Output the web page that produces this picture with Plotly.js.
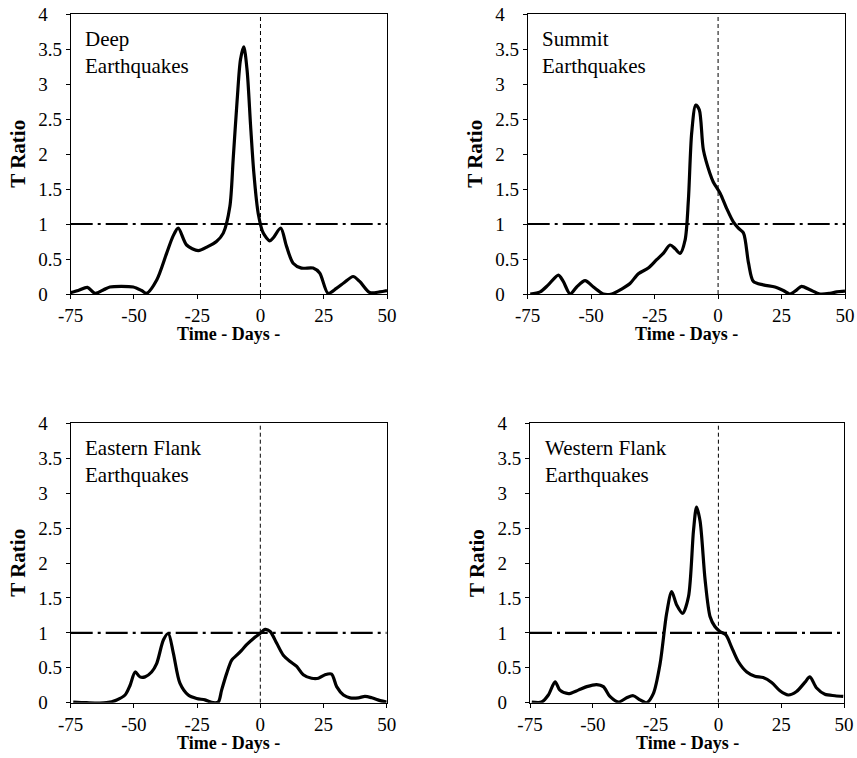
<!DOCTYPE html>
<html>
<head>
<meta charset="utf-8">
<script src="https://cdn.plot.ly/plotly-3.0.1.min.js"></script>
<style>html,body{margin:0;padding:0;background:#fff;}#chart{width:857px;height:758px;}</style>
</head>
<body>
<div id="chart"></div>
<script>
// ---- Data ----
const panelNames = ["Deep<br>Earthquakes", "Summit<br>Earthquakes", "Eastern Flank<br>Earthquakes", "Western Flank<br>Earthquakes"];

const deepDays  = [-75, -72, -68.4, -65.4, -62, -59.5, -55, -50.3, -47, -45, -41, -37.1, -34.5, -32.5, -29.2, -24.6, -20.7, -17.4, -14.7, -12.1, -10.8, -9.2, -7.9, -6.6, -5.3, -3.9, -2.6, -0.9, 1.1, 3.7, 5, 8, 10.3, 12.9, 16.2, 20.8, 23.4, 26.7, 30, 33, 36.6, 39.2, 43.2, 47.1, 50];
const deepRatio = [0.02, 0.05, 0.095, 0.01, 0.06, 0.1, 0.11, 0.1, 0.05, 0.01, 0.2, 0.58, 0.83, 0.94, 0.70, 0.62, 0.68, 0.75, 0.87, 1.25, 1.92, 2.78, 3.35, 3.53, 3.2, 2.4, 1.72, 1.15, 0.87, 0.76, 0.8, 0.94, 0.68, 0.44, 0.37, 0.37, 0.3, 0.01, 0.08, 0.16, 0.25, 0.18, 0.02, 0.03, 0.05];

const summitDays  = [-74, -70.1, -66.9, -62.9, -61, -58.3, -55.7, -52.4, -49.1, -45.2, -41.9, -38, -34.7, -31.4, -27.5, -24.2, -21.6, -18.9, -17, -15, -13, -11.7, -10.4, -8.8, -7.4, -5.8, -3.2, -1.9, 0.8, 3.4, 6, 8, 10, 12, 13.9, 17.8, 22.4, 25.7, 28.3, 31, 32.9, 36.2, 40.2, 44.1, 46.7, 50];
const summitRatio = [0, 0.03, 0.13, 0.27, 0.18, 0, 0.1, 0.19, 0.1, 0, 0, 0.07, 0.15, 0.29, 0.37, 0.49, 0.58, 0.70, 0.65, 0.58, 0.77, 1.34, 2.3, 2.7, 2.63, 2.06, 1.72, 1.6, 1.44, 1.22, 1.03, 0.94, 0.87, 0.44, 0.18, 0.13, 0.1, 0.05, 0, 0.06, 0.11, 0.06, 0, 0.01, 0.03, 0.04];

const easternDays  = [-74, -68.7, -60.8, -56.8, -53.5, -51.5, -49.5, -47.6, -45.6, -43, -41, -38.3, -36.4, -34.4, -31.8, -28.5, -25.2, -21.9, -18.6, -16.6, -15.3, -13.3, -11.3, -9.3, -7.4, -5.4, -2.7, -0.1, 1.9, 3.9, 6.5, 9.1, 11.8, 14.4, 17, 20.3, 23, 25.6, 28.2, 30.2, 32.9, 35.5, 38.8, 41.4, 44.1, 47.4, 50];
const easternRatio = [0.01, 0, 0, 0.04, 0.11, 0.25, 0.44, 0.37, 0.37, 0.44, 0.56, 0.9, 0.99, 0.71, 0.28, 0.11, 0.06, 0.04, 0, 0.01, 0.18, 0.42, 0.61, 0.68, 0.75, 0.83, 0.92, 0.99, 1.05, 1.02, 0.85, 0.68, 0.59, 0.52, 0.40, 0.35, 0.35, 0.40, 0.41, 0.23, 0.11, 0.07, 0.07, 0.09, 0.07, 0.03, 0.01];

const westernDays  = [-74.3, -70.4, -67.7, -65, -63.1, -59.7, -55.8, -52.4, -48.5, -45.8, -43.2, -39.8, -36.5, -33.9, -31.2, -28.6, -25.9, -23.2, -20.6, -18.6, -16.6, -14.2, -11.9, -9.9, -8.7, -7.3, -5.3, -3.3, -1.4, 0.6, 3, 5.2, 7.9, 11.3, 14.5, 17.8, 21.2, 24.5, 27.8, 31.1, 34.4, 36.4, 39.1, 42.4, 46.4, 49.7];
const westernRatio = [0.01, 0.01, 0.11, 0.3, 0.18, 0.13, 0.18, 0.23, 0.26, 0.23, 0.09, 0.01, 0.07, 0.1, 0.04, 0, 0.13, 0.56, 1.28, 1.59, 1.4, 1.28, 1.52, 2.47, 2.8, 2.6, 1.76, 1.23, 1.09, 1.02, 0.97, 0.8, 0.59, 0.44, 0.38, 0.36, 0.29, 0.17, 0.11, 0.16, 0.29, 0.37, 0.21, 0.12, 0.1, 0.09];

const yTickVals = [0, 0.5, 1, 1.5, 2, 2.5, 3, 3.5, 4];
// figure space + punctuation space pad whole numbers so labels line up on the left
const yTickText = ["0\u2007\u2008", "0.5", "1\u2007\u2008", "1.5", "2\u2007\u2008", "2.5", "3\u2007\u2008", "3.5", "4\u2007\u2008"];
const xTickVals = [-75, -50, -25, 0, 25, 50];
const xTickText = ["-75", "-50", "-25", "0", "25", "50"];
const xRange = [-75, 50];
const yRange = [0, 4];
const thresholdRatio = 1;
const eventDay = 0;
const xTitle = "Time - Days -";
const yTitle = "T Ratio";

// ---- Layout ----
const W = 857, H = 758;
const SERIF = "'Liberation Serif', 'Times New Roman', Times, serif";
const panels = [
  {days: deepDays,    ratio: deepRatio,    xd: [70.7, 387.0], yd: [14, 294]},
  {days: summitDays,  ratio: summitRatio,  xd: [527.7, 845.0], yd: [14, 294]},
  {days: easternDays, ratio: easternRatio, xd: [70.7, 386.7], yd: [423.3, 702.7]},
  {days: westernDays, ratio: westernRatio, xd: [530.0, 844.0], yd: [423.3, 702.7]}
];

const data = [];
const layout = {
  width: W, height: H,
  margin: {l: 0, r: 0, t: 0, b: 0},
  paper_bgcolor: "#fff", plot_bgcolor: "#fff",
  showlegend: false,
  font: {family: SERIF, color: "#000", size: 18},
  shapes: [], annotations: []
};

panels.forEach((p, i) => {
  const n = i === 0 ? "" : String(i + 1);
  const xa = "x" + n, ya = "y" + n;
  data.push({
    x: p.days, y: p.ratio, xaxis: xa, yaxis: ya,
    type: "scatter", mode: "lines",
    line: {color: "#000", width: 3.2, shape: "spline", smoothing: 0.8},
    hoverinfo: "skip"
  });
  const xdom = [p.xd[0] / W, p.xd[1] / W];
  const ydom = [1 - p.yd[1] / H, 1 - p.yd[0] / H];
  layout["xaxis" + n] = {
    domain: xdom, anchor: ya, range: xRange,
    tickmode: "array", tickvals: xTickVals, ticktext: xTickText,
    ticks: "outside", ticklen: 4, tickwidth: 1, tickcolor: "#000",
    showline: true, linecolor: "#000", linewidth: 1, mirror: true,
    showgrid: false, zeroline: false,
    tickfont: {family: SERIF, size: 19, color: "#000"}
  };
  layout["yaxis" + n] = {
    domain: ydom, anchor: xa, range: yRange,
    tickmode: "array", tickvals: yTickVals, ticktext: yTickText,
    ticks: "outside", ticklen: 4, tickwidth: 1, tickcolor: "#000",
    showline: true, linecolor: "#000", linewidth: 1, mirror: true,
    showgrid: false, zeroline: false,
    tickfont: {family: SERIF, size: 19, color: "#000"}
  };
  layout.shapes.push({
    type: "line", xref: xa, yref: ya, x0: xRange[0], x1: xRange[1], y0: thresholdRatio, y1: thresholdRatio,
    line: {color: "#000", width: 2.2, dash: "22px,5px,3px,5px"}
  });
  layout.shapes.push({
    type: "line", xref: xa, yref: ya, x0: eventDay, x1: eventDay, y0: yRange[0], y1: yRange[1],
    line: {color: "#000", width: 1, dash: "4px,3px"}
  });
  layout.annotations.push({
    xref: xa + " domain", yref: ya + " domain", x: 0.04, y: 0.962,
    xanchor: "left", yanchor: "top", align: "left", showarrow: false,
    text: panelNames[i], font: {family: SERIF, size: 21, color: "#000"}
  });
  layout.annotations.push({
    xref: "paper", yref: "paper",
    x: (p.xd[0] + p.xd[1]) / 2 / W, y: 1 - (p.yd[1] + 40) / H,
    xanchor: "center", yanchor: "middle", showarrow: false,
    text: "<b>" + xTitle + "</b>", font: {family: SERIF, size: 18, color: "#000"}
  });
  layout.annotations.push({
    xref: "paper", yref: "paper",
    x: (p.xd[0] - 53) / W, y: 1 - (p.yd[0] + p.yd[1]) / 2 / H,
    xanchor: "center", yanchor: "middle", showarrow: false, textangle: -90,
    text: "<b>" + yTitle + "</b>", font: {family: SERIF, size: 21, color: "#000"}
  });
});

Plotly.newPlot("chart", data, layout, {staticPlot: true, displayModeBar: false});
</script>
</body>
</html>
